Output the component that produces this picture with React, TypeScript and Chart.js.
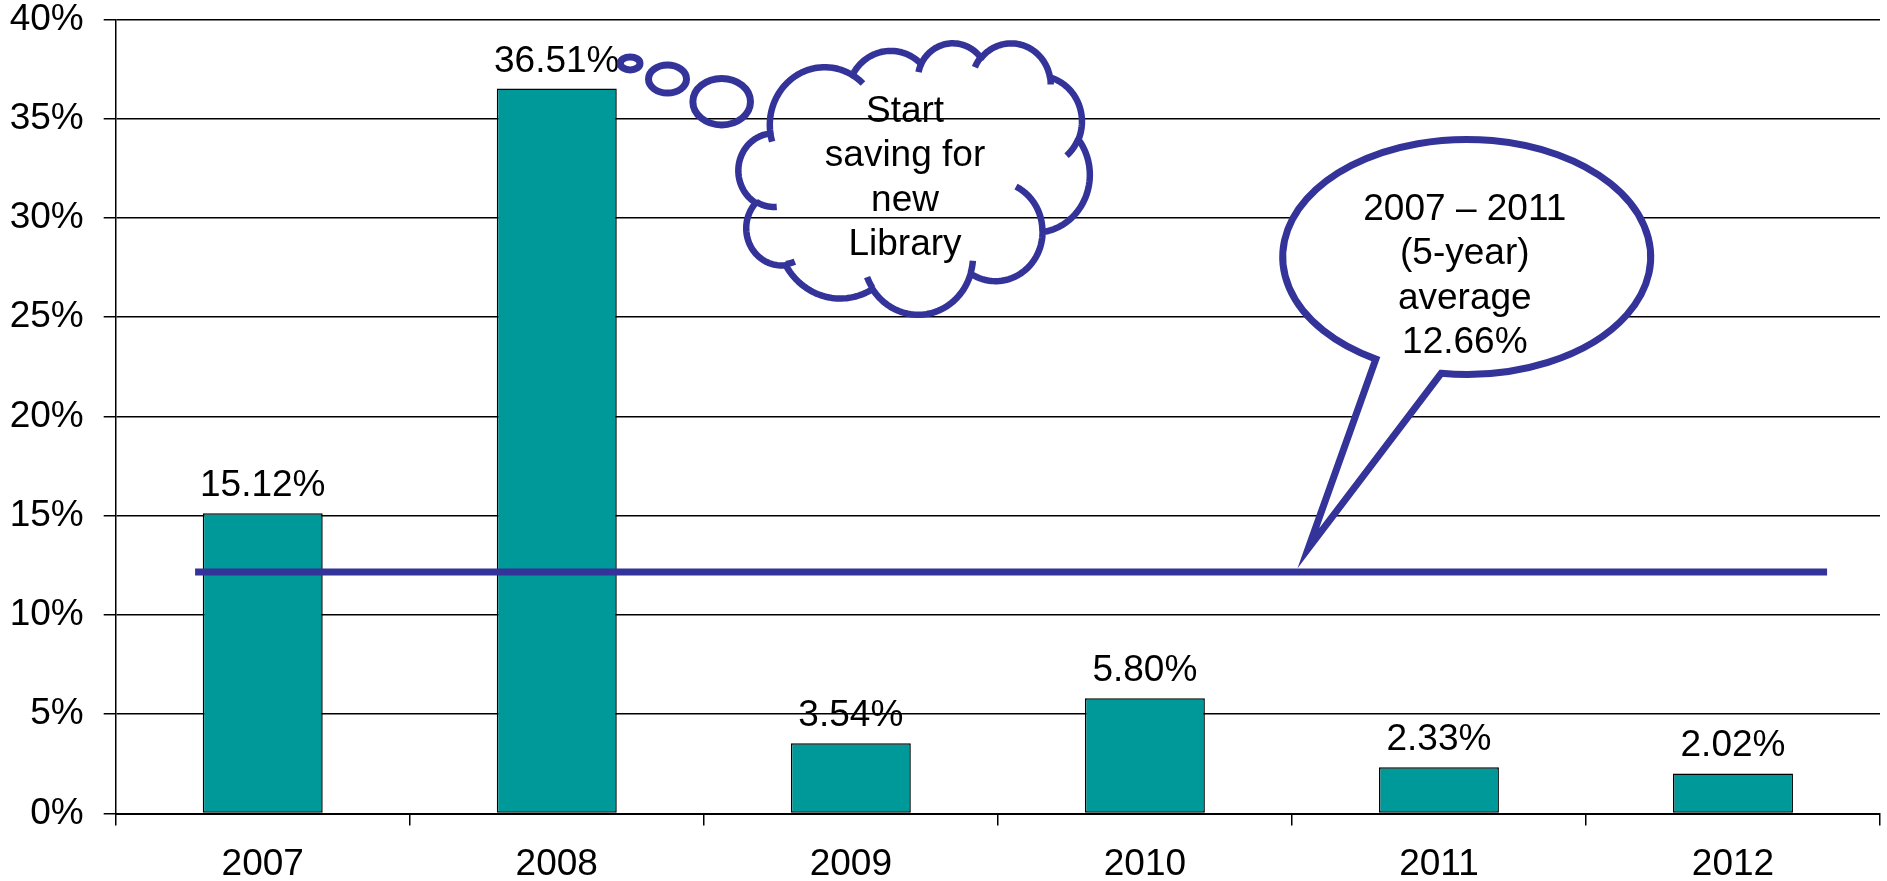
import React, { useEffect, useRef } from 'react';
import { Chart, registerables } from 'chart.js';

Chart.register(...registerables);

// ---------------- data ----------------
const YEARS = ['2007', '2008', '2009', '2010', '2011', '2012'];
const GROWTH = [15.12, 36.51, 3.54, 5.8, 2.33, 2.02];
const Y_TICKS = [0, 5, 10, 15, 20, 25, 30, 35, 40];
// horizontal average marker, x in category units (0 = first year), y in %
const AVERAGE_X = [-0.23, 5.32];
const AVERAGE_Y = [12.16, 12.16];
const CLOUD_TEXT = ['Start', 'saving for', 'new', 'Library'];
const BUBBLE_TEXT = ['2007 \u2013 2011', '(5-year)', 'average', '12.66%'];

const FONT = '"Liberation Sans", Arial, Helvetica, sans-serif';
const FONT_SIZE = 37;
const BLUE = '#333399';
const TEAL = '#009999';

// ---------------- cloud shape (OOXML preset "cloud") ----------------
const CLOUD_START: [number, number] = [3900, 14370];
const CLOUD_ARCS = [
  [6753, 9190, -11429249, 7426832],
  [5333, 7267, -8646143, 5396714],
  [4365, 5945, -8748475, 5983381],
  [4857, 6595, -7859164, 7034504],
  [5333, 7273, -4722533, 6541615],
  [6775, 9220, -2776035, 7816140],
  [5785, 7867, 37501, 6842000],
  [6752, 9215, 1347096, 6910353],
  [7720, 10543, 3974558, 4542661],
  [4360, 5918, -16496525, 8804134],
  [4345, 5945, -14809710, 9151131],
];
const CLOUD_INNER = [
  [4693, 26177, 4345, 5945, 5204520, 1585770],
  [6928, 34899, 4360, 5918, 4416628, 686848],
  [16478, 39090, 6752, 9215, 8257449, 844866],
  [28827, 34751, 6752, 9215, 387196, 959901],
  [34129, 22954, 5785, 7867, -4217541, 4255042],
  [41798, 15354, 5333, 7273, 1819082, 1665090],
  [38324, 5426, 4857, 6595, -824660, 891534],
  [29078, 3952, 4857, 6595, -8950887, 1091722],
  [22141, 4720, 4365, 5945, -9809656, 1061181],
  [14000, 5192, 6753, 9190, -4002417, 739161],
  [4127, 15789, 6753, 9190, 9459261, 711490],
];

function arcPoints(x0: number, y0: number, wR: number, hR: number, stA: number, swA: number, out: number[][]) {
  const st = (stA / 60000) * Math.PI / 180;
  const sw = (swA / 60000) * Math.PI / 180;
  const en = st + sw;
  const t1 = Math.atan2(wR * Math.sin(st), hR * Math.cos(st));
  let t2 = Math.atan2(wR * Math.sin(en), hR * Math.cos(en));
  if (sw > 0) { while (t2 <= t1) t2 += 2 * Math.PI; } else { while (t2 >= t1) t2 -= 2 * Math.PI; }
  const cx = x0 - wR * Math.cos(t1);
  const cy = y0 - hR * Math.sin(t1);
  const N = 40;
  let last = [x0, y0];
  for (let i = 1; i <= N; i++) {
    const t = t1 + ((t2 - t1) * i) / N;
    last = [cx + wR * Math.cos(t), cy + hR * Math.sin(t)];
    out.push(last);
  }
  return last;
}

function buildCloud() {
  const main: number[][] = [CLOUD_START];
  let cur = CLOUD_START as number[];
  for (const a of CLOUD_ARCS) cur = arcPoints(cur[0], cur[1], a[0], a[1], a[2], a[3], main);
  const inner: number[][][] = CLOUD_INNER.map((a) => {
    const pts: number[][] = [[a[0], a[1]]];
    arcPoints(a[0], a[1], a[2], a[3], a[4], a[5], pts);
    return pts;
  });
  let minX = Infinity, minY = Infinity, maxX = -Infinity, maxY = -Infinity;
  for (const p of main) {
    minX = Math.min(minX, p[0]); maxX = Math.max(maxX, p[0]);
    minY = Math.min(minY, p[1]); maxY = Math.max(maxY, p[1]);
  }
  return { main, inner, minX, minY, maxX, maxY };
}
const CLOUD = buildCloud();

// ---------------- plugins ----------------
const barLabels = {
  id: 'barLabels',
  afterDatasetsDraw(chart: any) {
    const ctx = chart.ctx;
    chart.data.datasets.forEach((ds: any, i: number) => {
      if (ds.type !== 'bar') return;
      const meta = chart.getDatasetMeta(i);
      ctx.save();
      ctx.font = `${FONT_SIZE}px ${FONT}`;
      ctx.fillStyle = '#000';
      ctx.textAlign = 'center';
      ctx.textBaseline = 'alphabetic';
      meta.data.forEach((el: any, j: number) => {
        ctx.fillText(Number(ds.data[j]).toFixed(2) + '%', el.x, el.y - 17);
      });
      ctx.restore();
    });
  },
};

const callouts = {
  id: 'callouts',
  afterDatasetsDraw(chart: any) {
    const ctx = chart.ctx as CanvasRenderingContext2D;
    const xs = chart.scales.x;
    const ys = chart.scales.y;
    const x0 = xs.getPixelForValue(0);
    const cat = xs.getPixelForValue(1) - x0;
    const X = (u: number) => x0 + u * cat;
    const Y = (v: number) => ys.getPixelForValue(v);

    ctx.save();
    ctx.strokeStyle = BLUE;

    // ---- speech bubble ----
    const bcx = X(4.0945), bcy = Y(28.03), brx = 184, bry = 117.5;
    const a1 = (119.6 * Math.PI) / 180, a2 = (98 * Math.PI) / 180;
    const tipX = X(3.5558), tipY = Y(13.357);
    ctx.beginPath();
    ctx.moveTo(tipX, tipY);
    ctx.lineTo(bcx + brx * Math.cos(a1), bcy + bry * Math.sin(a1));
    ctx.ellipse(bcx, bcy, brx, bry, 0, a1, a2 + 2 * Math.PI, false);
    ctx.closePath();
    ctx.fillStyle = '#fff';
    ctx.fill();
    ctx.lineWidth = 7;
    ctx.lineJoin = 'miter';
    ctx.miterLimit = 10;
    ctx.stroke();

    ctx.font = `${FONT_SIZE}px ${FONT}`;
    ctx.fillStyle = '#000';
    ctx.textAlign = 'center';
    ctx.textBaseline = 'alphabetic';
    const bubbleOffsets = [-37, 7.5, 52, 96.5];
    BUBBLE_TEXT.forEach((t, i) => ctx.fillText(t, X(4.088), bcy + bubbleOffsets[i]));

    // ---- thought bubbles ----
    ctx.lineWidth = 7;
    const dots = [
      [X(1.2496), Y(37.78), 9.8, 6.5],
      [X(1.3766), Y(36.99), 19, 14],
      [X(1.5608), Y(35.85), 28.8, 23.2],
    ];
    for (const d of dots) {
      ctx.beginPath();
      ctx.ellipse(d[0], d[1], d[2], d[3], 0, 0, Math.PI * 2);
      ctx.stroke();
    }

    // ---- cloud ----
    const left = X(1.6174), right = X(2.8128), top = Y(38.79), bottom = Y(25.12);
    const sx = (right - left) / (CLOUD.maxX - CLOUD.minX);
    const sy = (bottom - top) / (CLOUD.maxY - CLOUD.minY);
    const mx = (p: number[]) => left + (p[0] - CLOUD.minX) * sx;
    const my = (p: number[]) => top + (p[1] - CLOUD.minY) * sy;
    ctx.lineWidth = 6.5;
    ctx.lineJoin = 'round';
    ctx.lineCap = 'butt';
    ctx.beginPath();
    CLOUD.main.forEach((p, i) => (i === 0 ? ctx.moveTo(mx(p), my(p)) : ctx.lineTo(mx(p), my(p))));
    ctx.closePath();
    ctx.stroke();
    for (const seg of CLOUD.inner) {
      ctx.beginPath();
      seg.forEach((p, i) => (i === 0 ? ctx.moveTo(mx(p), my(p)) : ctx.lineTo(mx(p), my(p))));
      ctx.stroke();
    }
    const cloudOffsets = [78.2, 122.7, 167.2, 211.7];
    CLOUD_TEXT.forEach((t, i) => ctx.fillText(t, X(2.1843), top + cloudOffsets[i]));

    ctx.restore();
  },
};

export default function App() {
  const ref = useRef<HTMLCanvasElement>(null);
  useEffect(() => {
    if (!ref.current) return;
    const chart = new Chart(ref.current, {
      type: 'bar',
      data: {
        labels: YEARS,
        datasets: [
          {
            type: 'line',
            xAxisID: 'x2',
            data: AVERAGE_X.map((x, i) => ({ x, y: AVERAGE_Y[i] })),
            borderColor: BLUE,
            borderWidth: 7,
            borderCapStyle: 'butt',
            pointRadius: 0,
            fill: false,
            grouped: false,
            order: 0,
          } as any,
          {
            type: 'bar',
            data: GROWTH,
            backgroundColor: TEAL,
            borderColor: '#000',
            borderWidth: 1.5,
            borderSkipped: false,
            grouped: false,
            categoryPercentage: 1,
            barPercentage: 0.408,
            order: 1,
          } as any,
        ],
      },
      options: {
        responsive: false,
        animation: false,
        devicePixelRatio: 1,
        events: [],
        layout: { autoPadding: false, padding: { left: 0, right: 7, top: 19.3, bottom: 0 } } as any,
        plugins: { legend: { display: false }, tooltip: { enabled: false } },
        scales: {
          x: {
            type: 'category',
            offset: true,
            grid: { offset: true, drawOnChartArea: false, drawTicks: true, tickLength: 12, color: '#000', lineWidth: 1.5 },
            border: { display: true, color: '#000', width: 2 },
            ticks: { color: '#000', font: { family: FONT, size: FONT_SIZE }, padding: 17, maxRotation: 0, autoSkip: false },
            afterFit: (s: any) => { s.height = 67.5; s.paddingLeft = 0; s.paddingRight = 0; },
          },
          x2: { type: 'linear', display: false, offset: false, grace: 0, min: -0.5, max: 5.5 },
          y: {
            min: Y_TICKS[0],
            max: Y_TICKS[Y_TICKS.length - 1],
            afterBuildTicks: (s: any) => { s.ticks = Y_TICKS.map((v) => ({ value: v })); },
            ticks: { color: '#000', font: { family: FONT, size: FONT_SIZE, lineHeight: 1 }, padding: 20, callback: (v: any) => v + '%' },
            grid: { color: '#000', lineWidth: 1.5, tickLength: 12 },
            border: { color: '#000', width: 1.5 },
            afterFit: (s: any) => { s.width = 115.7; s.paddingTop = 0; s.paddingBottom = 0; },
          },
        } as any,
      },
      plugins: [barLabels, callouts],
    } as any);
    return () => chart.destroy();
  }, []);
  return (
    <div style={{ position: 'fixed', left: 0, top: 0, width: 1887, height: 881, background: '#fff' }}>
      <canvas ref={ref} width={1887} height={881} style={{ display: 'block', width: 1887, height: 881 }} />
    </div>
  );
}
